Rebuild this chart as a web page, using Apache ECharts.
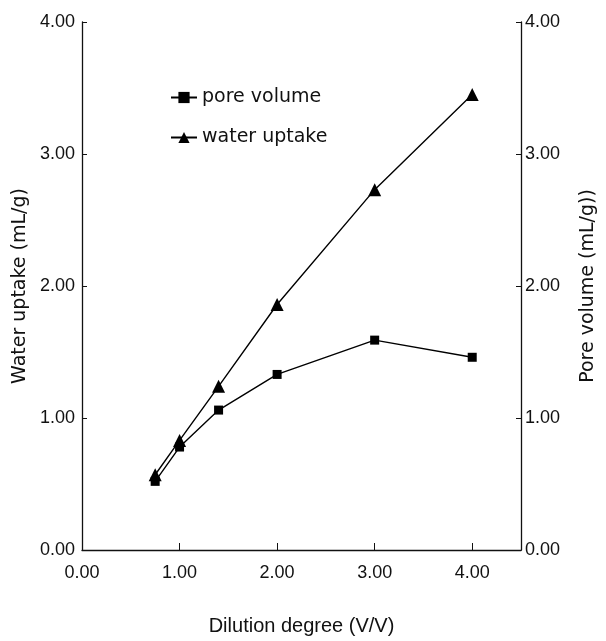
<!DOCTYPE html>
<html>
<head>
<meta charset="utf-8">
<script src="https://cdn.jsdelivr.net/npm/echarts@6/dist/echarts.min.js"></script>
<style>
  html, body { margin: 0; padding: 0; background: #fff; }
  #chart { width: 606px; height: 641px; }
</style>
</head>
<body>
<div id="chart"></div>
<script>
// dilution degree (V/V)
const dilution = [0.75, 1.0, 1.4, 2.0, 3.0, 4.0];
// water uptake (mL/g), left axis
const waterUptake = [0.57, 0.83, 1.24, 1.86, 2.73, 3.45];
// pore volume (mL/g), right axis
const poreVolume = [0.52, 0.78, 1.06, 1.33, 1.59, 1.46];

const font = 'Liberation Sans, Arial, sans-serif';
const wideFont = 'DejaVu Sans, sans-serif';
const ink = '#111';

const pairs = (xs, ys) => xs.map((x, i) => [x, ys[i]]);
const fmt = v => v.toFixed(2);

const yAxisBase = {
    type: 'value',
    min: 0,
    max: 4,
    interval: 1,
    nameLocation: 'middle',
    nameRotate: 90,
    nameTextStyle: { fontFamily: wideFont, fontSize: 19, color: ink },
    axisLine: { show: true, lineStyle: { color: ink, width: 1.3 } },
    axisTick: { show: true, inside: true, length: 5, lineStyle: { color: ink } },
    splitLine: { show: false }
};

const chart = echarts.init(document.getElementById('chart'));
chart.setOption({
    animation: false,
    backgroundColor: '#fff',
    grid: { left: 82, right: 70, top: 22, bottom: 83 },
    legend: {
        orient: 'vertical',
        left: 165,
        top: 83,
        itemGap: 21,
        itemWidth: 26,
        itemHeight: 14,
        textStyle: { fontFamily: wideFont, fontSize: 19, color: ink },
        data: ['pore volume', 'water uptake']
    },
    xAxis: {
        type: 'value',
        min: 0,
        max: 4.5,
        interval: 1,
        name: 'Dilution degree (V/V)',
        nameLocation: 'middle',
        nameGap: 66,
        nameTextStyle: { fontFamily: font, fontSize: 20, color: ink },
        axisLine: { lineStyle: { color: ink, width: 1.3 } },
        axisTick: { inside: true, length: 7, lineStyle: { color: ink } },
        axisLabel: {
            fontFamily: font, fontSize: 18, color: ink, margin: 14,
            formatter: v => (v <= 4 ? fmt(v) : '')
        },
        splitLine: { show: false }
    },
    yAxis: [
        Object.assign({}, yAxisBase, {
            position: 'left',
            name: 'Water uptake (mL/g)',
            nameGap: 50,
            axisLabel: { formatter: fmt, fontFamily: font, fontSize: 18, color: ink, margin: 7 }
        }),
        Object.assign({}, yAxisBase, {
            position: 'right',
            name: 'Pore volume (mL/g))',
            nameGap: 58,
            axisLabel: { formatter: fmt, fontFamily: font, fontSize: 18, color: ink, margin: 4 }
        })
    ],
    series: [
        {
            name: 'pore volume',
            type: 'line',
            yAxisIndex: 1,
            data: pairs(dilution, poreVolume),
            symbol: 'rect',
            symbolSize: 9,
            itemStyle: { color: '#000' },
            lineStyle: { color: '#000', width: 1.4 }
        },
        {
            name: 'water uptake',
            type: 'line',
            yAxisIndex: 0,
            data: pairs(dilution, waterUptake),
            symbol: 'triangle',
            symbolSize: 13,
            itemStyle: { color: '#000' },
            lineStyle: { color: '#000', width: 1.4 }
        }
    ]
});
</script>
</body>
</html>
